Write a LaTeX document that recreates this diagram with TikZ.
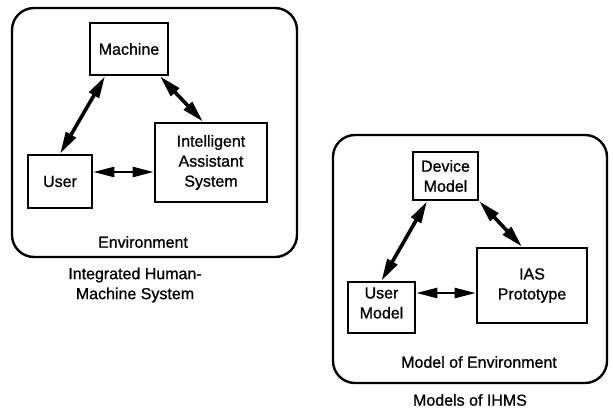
\documentclass[tikz,border=0pt]{standalone}
\usepackage{fontspec}
\setmainfont{Liberation Sans}[FakeBold=0.9]
\usetikzlibrary{arrows.meta}

\begin{document}
\begin{tikzpicture}[x=1pt, y=-1pt,
  every node/.style={font=\fontsize{16}{20}\selectfont},
  box/.style={draw, line width=2.6pt, align=center, inner sep=0pt},
  frame/.style={draw, line width=2.4pt, rounded corners=22pt},
  link/.style={line width=3.6pt, {Triangle[length=22pt,width=11pt]}-{Triangle[length=22pt,width=11pt]}},
  flat/.style={line width=2.4pt, {Triangle[length=21pt,width=10pt]}-{Triangle[length=21pt,width=10pt]}}]
  \useasboundingbox (0,0) rectangle (613,408);

  % integrated human-machine system
  \draw[frame] (12,8) rectangle (297,257);
  \node[box, minimum width=78pt, minimum height=52pt] (machine) at (129,49) {Machine};
  \node[box, minimum width=64pt, minimum height=53pt] (user) at (60,181.5) {User};
  \node[box, minimum width=112pt, minimum height=79pt] (ias) at (211,162.5) {Intelligent\\Assistant\\System};
  \node (env) at (143,242) {Environment};
  \node[align=center] (ihms) at (135,285) {Integrated Human-\\Machine System};
  \draw[link] ([xshift=-24pt]machine.south) -- (user.north);
  \draw[link] ([xshift=31pt]machine.south) -- ([xshift=-8pt]ias.north);
  \draw[flat] ([yshift=9.5pt]user.east) -- ([yshift=9.5pt]user.east -| ias.west);

  % models of IHMS
  \draw[frame] (333,135) rectangle (607,383);
  \node[box, minimum width=65pt, minimum height=48pt] (device) at (445.5,176) {Device\\Model};
  \node[box, minimum width=67pt, minimum height=51pt] (umodel) at (381.5,307.5) {};
  \node[align=center] (ulabel) at (381.5,303) {User\\Model};
  \node[box, minimum width=110pt, minimum height=75pt] (proto) at (532,285.5) {IAS\\Prototype};
  \node (menv) at (479,362) {Model of Environment};
  \node (models) at (470,400) {Models of IHMS};
  \draw[link] ([xshift=-18.5pt]device.south) -- (umodel.north);
  \draw[link] (device.south east) -- ([xshift=-10pt]proto.north);
  \draw[flat] ([yshift=14.5pt]umodel.east) -- ([yshift=14.5pt]umodel.east -| proto.west);
\end{tikzpicture}
\end{document}
